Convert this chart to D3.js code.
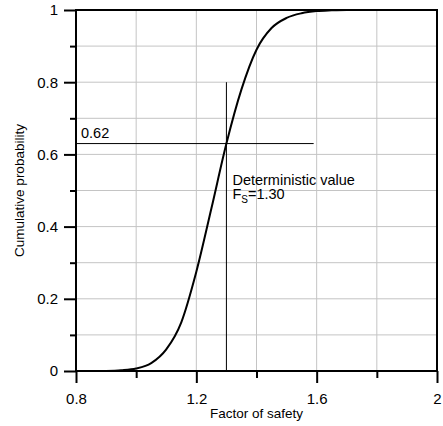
<!DOCTYPE html>
<html>
<head>
<meta charset="utf-8">
<script src="https://cdn.jsdelivr.net/npm/d3@7"></script>
<style>
  body { margin: 0; background: #fff; }
  text { font-family: "Liberation Sans", Arial, sans-serif; }
</style>
</head>
<body>
<script>
//curve points (factor of safety, cumulative probability)
var fsValues = [0.90, 0.95, 1.00, 1.05, 1.10, 1.15, 1.20, 1.25, 1.30, 1.35, 1.40, 1.45, 1.50, 1.55, 1.60, 1.65, 1.70, 2.00];
var cumProb  = [0.000, 0.002, 0.007, 0.022, 0.060, 0.135, 0.275, 0.450, 0.630, 0.780, 0.890, 0.950, 0.978, 0.991, 0.997, 0.999, 1.000, 1.000];

//tick values
var xMajorTicks = [0.8, 1.2, 1.6, 2];
var xMinorTicks = [1.0, 1.4, 1.8];
var xGridTicks = [1.0, 1.2, 1.4, 1.6, 1.8];
var yMajorTicks = [0, 0.2, 0.4, 0.6, 0.8, 1];
var yMinorTicks = [0.1, 0.3, 0.5, 0.7, 0.9];
var yGridTicks = [0.1, 0.2, 0.3, 0.4, 0.5, 0.6, 0.7, 0.8, 0.9];

//deterministic value annotation
var detFs = 1.30;
var detProb = 0.63;
var detLabel = "0.62";
var hLineEnd = 1.59;
var vLineTop = 0.8;

var width = 443, height = 426;
var margin = {top: 10, right: 6, bottom: 55, left: 76};
var innerW = width - margin.left - margin.right,
    innerH = height - margin.top - margin.bottom;

var svg = d3.select("body").append("svg")
    .attr("width", width)
    .attr("height", height);

var g = svg.append("g")
    .attr("transform", "translate(" + margin.left + "," + margin.top + ")");

var x = d3.scaleLinear().domain([0.8, 2]).range([0, innerW]);
var y = d3.scaleLinear().domain([0, 1]).range([innerH, 0]);

//grid
g.selectAll(".vgrid").data(xGridTicks).enter().append("line")
    .attr("x1", function(d){ return x(d); })
    .attr("x2", function(d){ return x(d); })
    .attr("y1", 0).attr("y2", innerH)
    .attr("stroke", "#c4c4c4").attr("stroke-width", 1);
g.selectAll(".hgrid").data(yGridTicks).enter().append("line")
    .attr("y1", function(d){ return y(d); })
    .attr("y2", function(d){ return y(d); })
    .attr("x1", 0).attr("x2", innerW)
    .attr("stroke", "#c4c4c4").attr("stroke-width", 1);

//annotation lines
g.append("line")
    .attr("x1", x(0.8)).attr("x2", x(hLineEnd))
    .attr("y1", y(detProb)).attr("y2", y(detProb))
    .attr("stroke", "#000").attr("stroke-width", 1);
g.append("line")
    .attr("x1", x(detFs)).attr("x2", x(detFs))
    .attr("y1", y(0)).attr("y2", y(vLineTop))
    .attr("stroke", "#000").attr("stroke-width", 1);

//curve
var pts = fsValues.map(function(d, i){ return [d, cumProb[i]]; });
var line = d3.line()
    .x(function(d){ return x(d[0]); })
    .y(function(d){ return y(d[1]); })
    .curve(d3.curveMonotoneX);
g.append("path")
    .datum(pts)
    .attr("d", line)
    .attr("fill", "none")
    .attr("stroke", "#000")
    .attr("stroke-width", 2);

//frame
g.append("rect")
    .attr("x", 0).attr("y", 0)
    .attr("width", innerW).attr("height", innerH)
    .attr("fill", "none")
    .attr("stroke", "#000").attr("stroke-width", 2);

//axes
g.append("g")
    .attr("transform", "translate(0," + innerH + ")")
    .call(d3.axisBottom(x).tickValues(xMajorTicks).tickSize(12).tickPadding(10)
        .tickFormat(function(d){ return String(d); }));
g.append("g")
    .attr("transform", "translate(0," + innerH + ")")
    .call(d3.axisBottom(x).tickValues(xMinorTicks).tickSize(7).tickFormat(""));
g.append("g")
    .call(d3.axisLeft(y).tickValues(yMajorTicks).tickSize(12).tickPadding(6)
        .tickFormat(function(d){ return String(d); }));
g.append("g")
    .call(d3.axisLeft(y).tickValues(yMinorTicks).tickSize(6).tickFormat(""));

g.selectAll(".domain").remove();
g.selectAll(".tick line").attr("stroke", "#000").attr("stroke-width", 2);
g.selectAll(".tick text")
    .attr("fill", "#000")
    .style("font-size", "15px")
    .style("font-family", "'Liberation Sans', Arial, sans-serif");

//axis titles
svg.append("text")
    .attr("x", margin.left + innerW / 2)
    .attr("y", 418)
    .attr("text-anchor", "middle")
    .style("font-size", "13.5px")
    .text("Factor of safety");
svg.append("text")
    .attr("transform", "translate(24," + (margin.top + innerH / 2) + ") rotate(-90)")
    .attr("text-anchor", "middle")
    .style("font-size", "13.5px")
    .text("Cumulative probability");

//annotation texts
g.append("text")
    .attr("x", 5)
    .attr("y", y(detProb) - 6)
    .style("font-size", "14.5px")
    .text(detLabel);
var ann = g.append("text")
    .attr("x", x(detFs) + 6)
    .attr("y", y(detProb) + 41)
    .style("font-size", "14.5px");
ann.append("tspan").text("Deterministic value");
var fsLine = ann.append("tspan").attr("x", x(detFs) + 6).attr("dy", 14.5);
fsLine.append("tspan").text("F");
fsLine.append("tspan").attr("dy", 4).style("font-size", "10px").text("S");
fsLine.append("tspan").attr("dy", -4).text("=" + detFs.toFixed(2));
</script>
</body>
</html>
